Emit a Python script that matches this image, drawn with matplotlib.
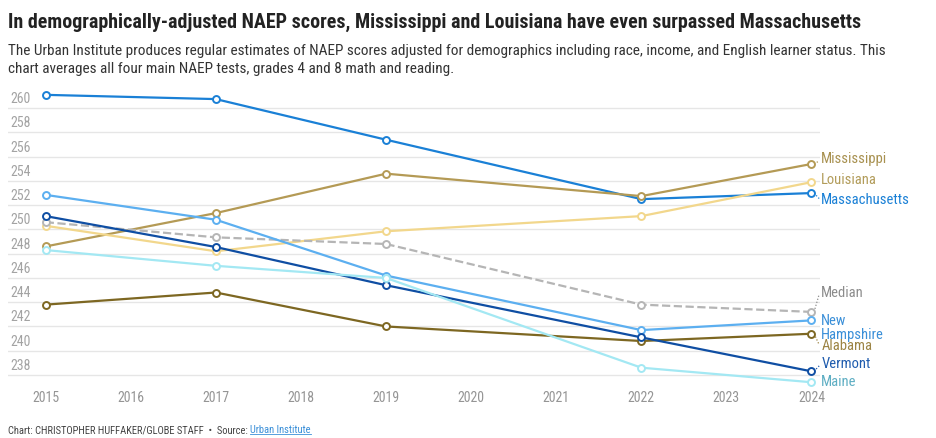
import matplotlib
matplotlib.use("Agg")
import matplotlib.pyplot as plt

# --- data ---
years = [2015, 2017, 2019, 2022, 2024]
massachusetts = [261.1, 260.75, 257.4, 252.5, 253.0]
mississippi = [248.6, 251.35, 254.6, 252.75, 255.4]
louisiana = [250.3, 248.2, 249.85, 251.1, 253.9]
median = [250.6, 249.35, 248.8, 243.8, 243.2]
new_hampshire = [252.85, 250.8, 246.2, 241.7, 242.5]
vermont = [251.1, 248.55, 245.4, 241.1, 238.3]
maine = [248.3, 247.0, 246.0, 238.6, 237.4]
alabama = [243.8, 244.8, 242.0, 240.8, 241.4]

y_ticks = list(range(238, 262, 2))
x_ticks = list(range(2015, 2025))

# end labels: text and the y value where the label sits
end_labels = ["Mississippi", "Louisiana", "Massachusetts", "Median", "New\nHampshire",
              "Alabama", "Vermont", "Maine"]
end_label_y = [255.8, 254.05, 252.4, 244.8, 241.9, 240.35, 238.9, 237.4]

plt.rcParams["font.family"] = ["Roboto Condensed", "DejaVu Sans"]

fig = plt.figure(figsize=(9.36, 4.38), dpi=100)
ax = fig.add_axes([8 / 936, 1 - 378 / 438, 812 / 936, 288 / 438])

# (values, line colour, line style, label colour)
series = [
    (massachusetts, "#1a80d6", "-", "#1a80d6"),
    (mississippi, "#b49a55", "-", "#a89150"),
    (louisiana, "#f2d78c", "-", "#b29c5a"),
    (median, "#b5b5b5", "--", "#8c8c8c"),
    (new_hampshire, "#5caff0", "-", "#3a8fd8"),
    (alabama, "#7d6722", "-", "#9c8444"),
    (vermont, "#0f4ea3", "-", "#1f5cae"),
    (maine, "#a3e8f3", "-", "#5eaec3"),
]
draw_order = [7, 4, 6, 5, 3, 2, 1, 0]

for i in draw_order:
    vals, col, ls, _ = series[i]
    ax.plot(years, vals, color=col, linestyle=ls, lw=1.6,
            marker="o", markersize=5, markerfacecolor="white",
            markeredgecolor=col, markeredgewidth=1.4, zorder=3 + i * 0.1,
            clip_on=False)

# labels on the right end, with small dotted leaders
label_series = [1, 2, 0, 3, 4, 5, 6, 7]
for lab, ly, si in zip(end_labels, end_label_y, label_series):
    vals, col, ls, tcol = series[si]
    ax.text(2024.115, ly, lab, color=tcol, fontsize=10.5, va="center", ha="left",
            linespacing=1.0, clip_on=False)
    if abs(ly - vals[-1]) > 0.3 and lab != "New\nHampshire":
        ax.plot([2024.03, 2024.09], [vals[-1], ly + (0.15 if ly < vals[-1] else -0.15)],
                color=tcol, lw=0.9, linestyle=(0, (1, 1.5)), clip_on=False)

# grid and y labels sitting above the grid lines
for v in y_ticks:
    ax.axhline(v, color="#e6e6e6", lw=1, zorder=1)
    ax.text(2 / 812, v + 0.42, str(v), transform=ax.get_yaxis_transform(),
            color="#a3a3a3", fontsize=10, ha="left", va="baseline")

ax.set_xlim(2014.557, 2024.1)
ax.set_ylim(237.75, 261.5)
ax.set_xticks(x_ticks)
ax.set_xticklabels([str(x) for x in x_ticks], color="#959595", fontsize=10)
ax.tick_params(axis="x", length=0, pad=9)
ax.set_yticks([])
for s in ax.spines.values():
    s.set_visible(False)


def fit(txt, target_px):
    # scale a text's font size so it spans target_px
    fig.canvas.draw()
    w = txt.get_window_extent().width
    txt.set_fontsize(txt.get_fontsize() * target_px / w)


title = fig.text(8 / 936, 1 - 22 / 438,
                 "In demographically-adjusted NAEP scores, Mississippi and Louisiana have even surpassed Massachusetts",
                 fontsize=14, fontweight="bold", color="#222222", va="center", ha="left")
fit(title, 854)
sub = fig.text(8 / 936, 1 - 60 / 438,
               "The Urban Institute produces regular estimates of NAEP scores adjusted for demographics including race, income, and English learner status. This\n"
               "chart averages all four main NAEP tests, grades 4 and 8 math and reading.",
               fontsize=10.5, color="#333333", va="center", ha="left", linespacing=1.4)
fit(sub, 883)

src = fig.text(8 / 936, 1 - 430 / 438, "Chart: CHRISTOPHER HUFFAKER/GLOBE STAFF  \u2022  Source: ",
               fontsize=7.6, color="#444444", va="center", ha="left")
fig.canvas.draw()
bb = src.get_window_extent().transformed(fig.transFigure.inverted())
link = fig.text(bb.x1, 1 - 430 / 438, "Urban Institute", fontsize=7.6, color="#3a8fd8",
                va="center", ha="left")
fig.canvas.draw()
lb = link.get_window_extent().transformed(fig.transFigure.inverted())
fig.add_artist(plt.Line2D([lb.x0, lb.x1], [lb.y0 + 0.002, lb.y0 + 0.002],
                          transform=fig.transFigure, color="#3a8fd8", lw=0.6))

fig.savefig("out.png", dpi=100)
